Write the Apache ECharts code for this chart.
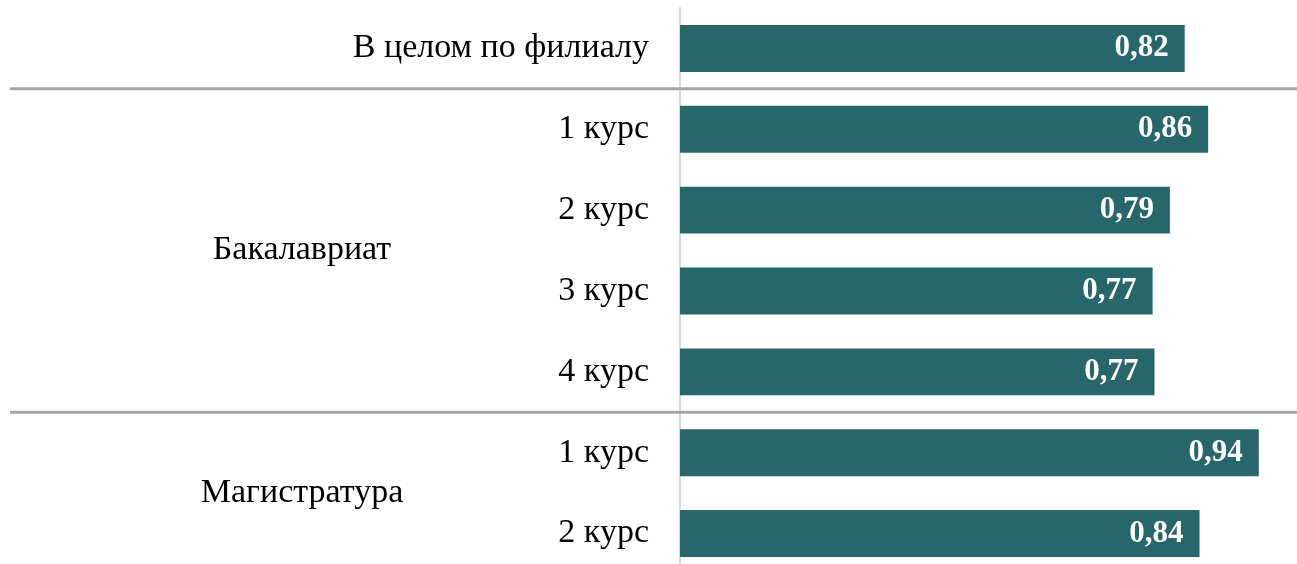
<!DOCTYPE html>
<html>
<head>
<meta charset="utf-8">
<script src="https://cdn.jsdelivr.net/npm/echarts@6/dist/echarts.min.js"></script>
<style>
  html, body { margin: 0; padding: 0; background: #fff; }
  #chart { width: 1297px; height: 564px; }
</style>
</head>
<body>
<div id="chart"></div>
<script>
// data
const categories = ["В целом по филиалу", "1 курс", "2 курс", "3 курс", "4 курс", "1 курс", "2 курс"];
const values = [0.818, 0.856, 0.794, 0.766, 0.769, 0.938, 0.842];
// groups: label, first and last category index
const groupNames = ["Бакалавриат", "Магистратура"];
const groupStart = [1, 5];
const groupEnd = [4, 6];

const FONT = "Liberation Serif";
const BAR = "#27666b";

let myChart = echarts.init(document.getElementById("chart"));
let option = {
  animation: false,
  grid: { left: 680, right: 0, top: 8, height: 566, outerBoundsMode: "none" },
  xAxis: {
    type: "value",
    min: 0,
    max: 1,
    show: false,
  },
  yAxis: {
    type: "category",
    inverse: true,
    data: categories,
    axisLine: { show: true, lineStyle: { color: "#d9d9d9", width: 2 } },
    axisTick: { show: false },
    axisLabel: {
      margin: 31,
      fontFamily: FONT,
      fontSize: 34,
      color: "#000",
    },
  },
  series: [
    {
      type: "bar",
      data: values,
      barCategoryGap: "42%",
      itemStyle: { color: BAR },
      label: {
        show: true,
        position: "insideRight",
        distance: 16,
        fontFamily: FONT,
        fontWeight: "bold",
        fontSize: 31,
        color: "#fff",
        formatter: (p) => p.value.toFixed(2).replace(".", ","),
      },
    },
  ],
};
myChart.setOption(option);

// separators and group labels, placed from the category axis
const yPix = (i) => myChart.convertToPixel({ yAxisIndex: 0 }, i);
let graphic = [];
groupStart.forEach((s, g) => {
  const yTop = (yPix(s - 1) + yPix(s)) / 2;
  graphic.push({
    type: "line",
    shape: { x1: 10, y1: yTop, x2: 1297, y2: yTop },
    style: { stroke: "#a6a6a6", lineWidth: 3 },
    z: 10,
  });
  const yMid = (yPix(s) + yPix(groupEnd[g])) / 2;
  graphic.push({
    type: "text",
    x: 302,
    y: yMid,
    style: {
      text: groupNames[g],
      font: "34px '" + FONT + "'",
      fill: "#000",
      align: "center",
      verticalAlign: "middle",
    },
  });
});
myChart.setOption({ graphic: graphic });
</script>
</body>
</html>
